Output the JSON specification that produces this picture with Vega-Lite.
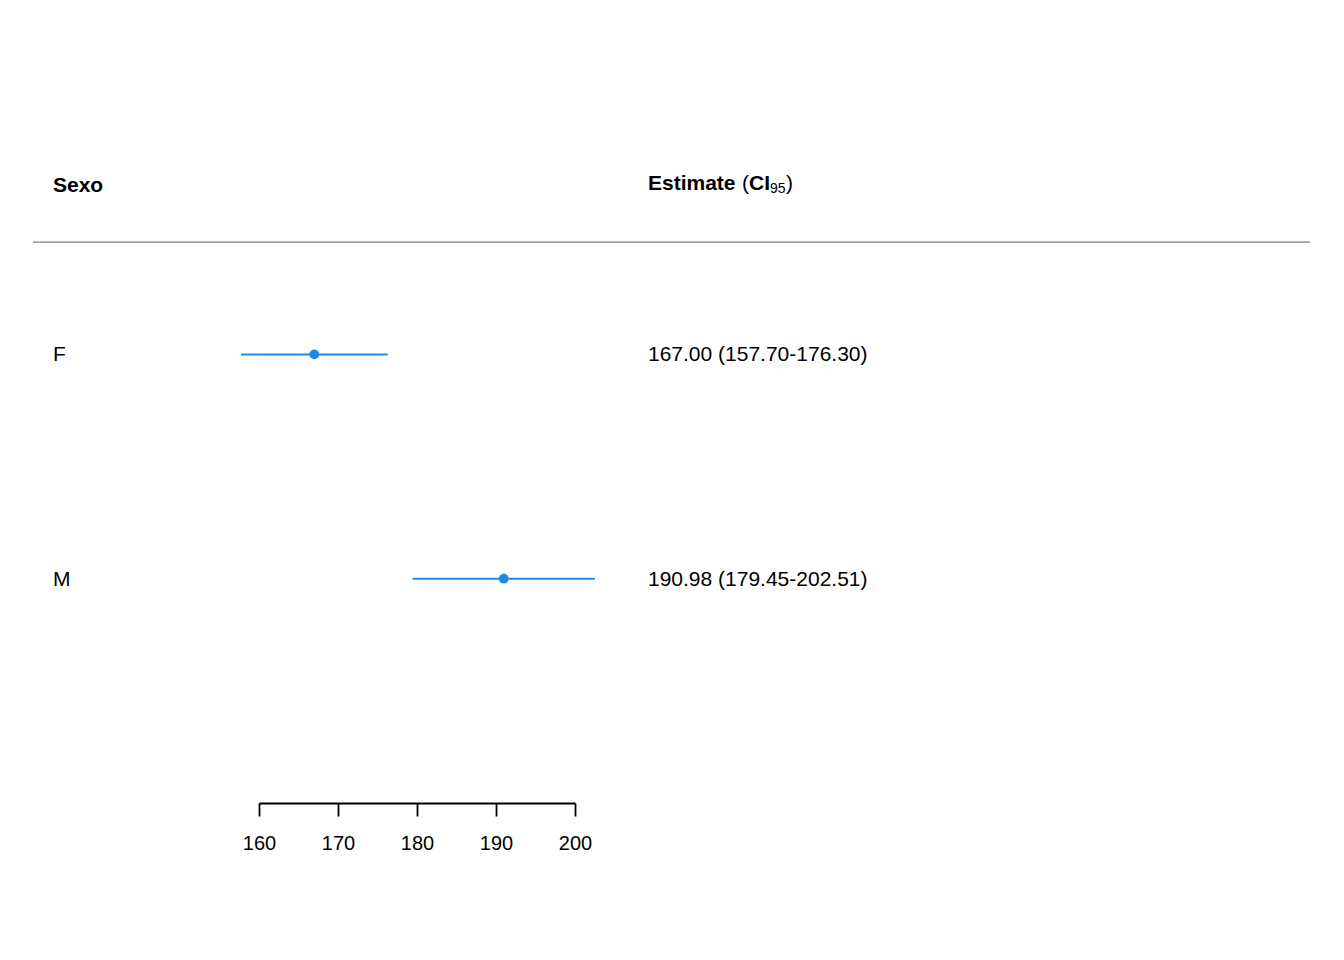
{
  "$schema": "https://vega.github.io/schema/vega-lite/v6.json",
  "autosize": {"type": "none"},
  "padding": {"left": 259, "top": 0, "right": 769, "bottom": 157},
  "width": 316,
  "height": 803,
  "background": "white",
  "config": {"view": {"stroke": null}, "font": "Liberation Sans"},
  "data": {
    "values": [
      {"Sexo": "F", "row": 1, "est": 167.00, "lo": 157.70, "hi": 176.30, "label": "167.00 (157.70-176.30)"},
      {"Sexo": "M", "row": 2, "est": 190.98, "lo": 179.45, "hi": 202.51, "label": "190.98 (179.45-202.51)"}
    ]
  },
  "layer": [
    {
      "mark": {"type": "rule", "color": "#A3A3A3", "strokeWidth": 1.5},
      "encoding": {
        "x": {"datum": 131.39, "type": "quantitative", "scale": {"domain": [160, 200], "nice": false, "zero": false},
          "axis": {"values": [160, 170, 180, 190, 200], "title": null, "grid": false, "domainColor": "black", "domainWidth": 1.8, "tickColor": "black", "tickWidth": 1.8, "tickSize": 13, "labelFontSize": 20, "labelColor": "black", "labelPadding": 17, "labelFlush": false, "labelOverlap": false, "labelFont": "Liberation Sans"}},
        "x2": {"datum": 293.04},
        "y": {"datum": 0.5, "type": "quantitative", "scale": {"domain": [-0.58, 3], "reverse": true, "nice": false, "zero": false}, "axis": null}
      }
    },
    {
      "mark": {"type": "rule", "color": "#1E88E5", "strokeWidth": 2},
      "encoding": {
        "x": {"field": "lo", "type": "quantitative"},
        "x2": {"field": "hi"},
        "y": {"field": "row", "type": "quantitative"}
      }
    },
    {
      "mark": {"type": "point", "filled": true, "shape": "circle", "color": "#1E88E5", "opacity": 1, "size": 95},
      "encoding": {
        "x": {"field": "est", "type": "quantitative"},
        "y": {"field": "row", "type": "quantitative"}
      }
    },
    {
      "mark": {"type": "text", "align": "left", "baseline": "middle", "fontSize": 21, "color": "black", "dy": 1},
      "encoding": {
        "x": {"datum": 133.92, "type": "quantitative"},
        "y": {"field": "row", "type": "quantitative"},
        "text": {"field": "Sexo"}
      }
    },
    {
      "mark": {"type": "text", "align": "left", "baseline": "middle", "fontSize": 21, "color": "black", "dy": 1},
      "encoding": {
        "x": {"datum": 209.24, "type": "quantitative"},
        "y": {"field": "row", "type": "quantitative"},
        "text": {"field": "label"}
      }
    },
    {
      "data": {"values": [{"h": "Sexo"}]},
      "mark": {"type": "text", "align": "left", "baseline": "middle", "fontSize": 21, "fontWeight": "bold", "color": "black", "dy": 2},
      "encoding": {
        "x": {"datum": 133.92, "type": "quantitative"},
        "y": {"datum": 0.24, "type": "quantitative"},
        "text": {"field": "h"}
      }
    },
    {
      "data": {"values": [{"h": "Estimate"}]},
      "mark": {"type": "text", "align": "left", "baseline": "middle", "fontSize": 21, "fontWeight": "bold", "color": "black", "dy": 0},
      "encoding": {
        "x": {"datum": 209.24, "type": "quantitative"},
        "y": {"datum": 0.24, "type": "quantitative"},
        "text": {"field": "h"}
      }
    },
    {
      "data": {"values": [{"h": "("}]},
      "mark": {"type": "text", "align": "left", "baseline": "middle", "fontSize": 21, "color": "black", "dx": 94, "dy": 0},
      "encoding": {
        "x": {"datum": 209.24, "type": "quantitative"},
        "y": {"datum": 0.24, "type": "quantitative"},
        "text": {"field": "h"}
      }
    },
    {
      "data": {"values": [{"h": "CI"}]},
      "mark": {"type": "text", "align": "left", "baseline": "middle", "fontSize": 21, "fontWeight": "bold", "color": "black", "dx": 101, "dy": 0},
      "encoding": {
        "x": {"datum": 209.24, "type": "quantitative"},
        "y": {"datum": 0.24, "type": "quantitative"},
        "text": {"field": "h"}
      }
    },
    {
      "data": {"values": [{"h": "95"}]},
      "mark": {"type": "text", "align": "left", "baseline": "middle", "fontSize": 14, "color": "black", "dx": 122, "dy": 5},
      "encoding": {
        "x": {"datum": 209.24, "type": "quantitative"},
        "y": {"datum": 0.24, "type": "quantitative"},
        "text": {"field": "h"}
      }
    },
    {
      "data": {"values": [{"h": ")"}]},
      "mark": {"type": "text", "align": "left", "baseline": "middle", "fontSize": 21, "color": "black", "dx": 138, "dy": 0},
      "encoding": {
        "x": {"datum": 209.24, "type": "quantitative"},
        "y": {"datum": 0.24, "type": "quantitative"},
        "text": {"field": "h"}
      }
    }
  ]
}
